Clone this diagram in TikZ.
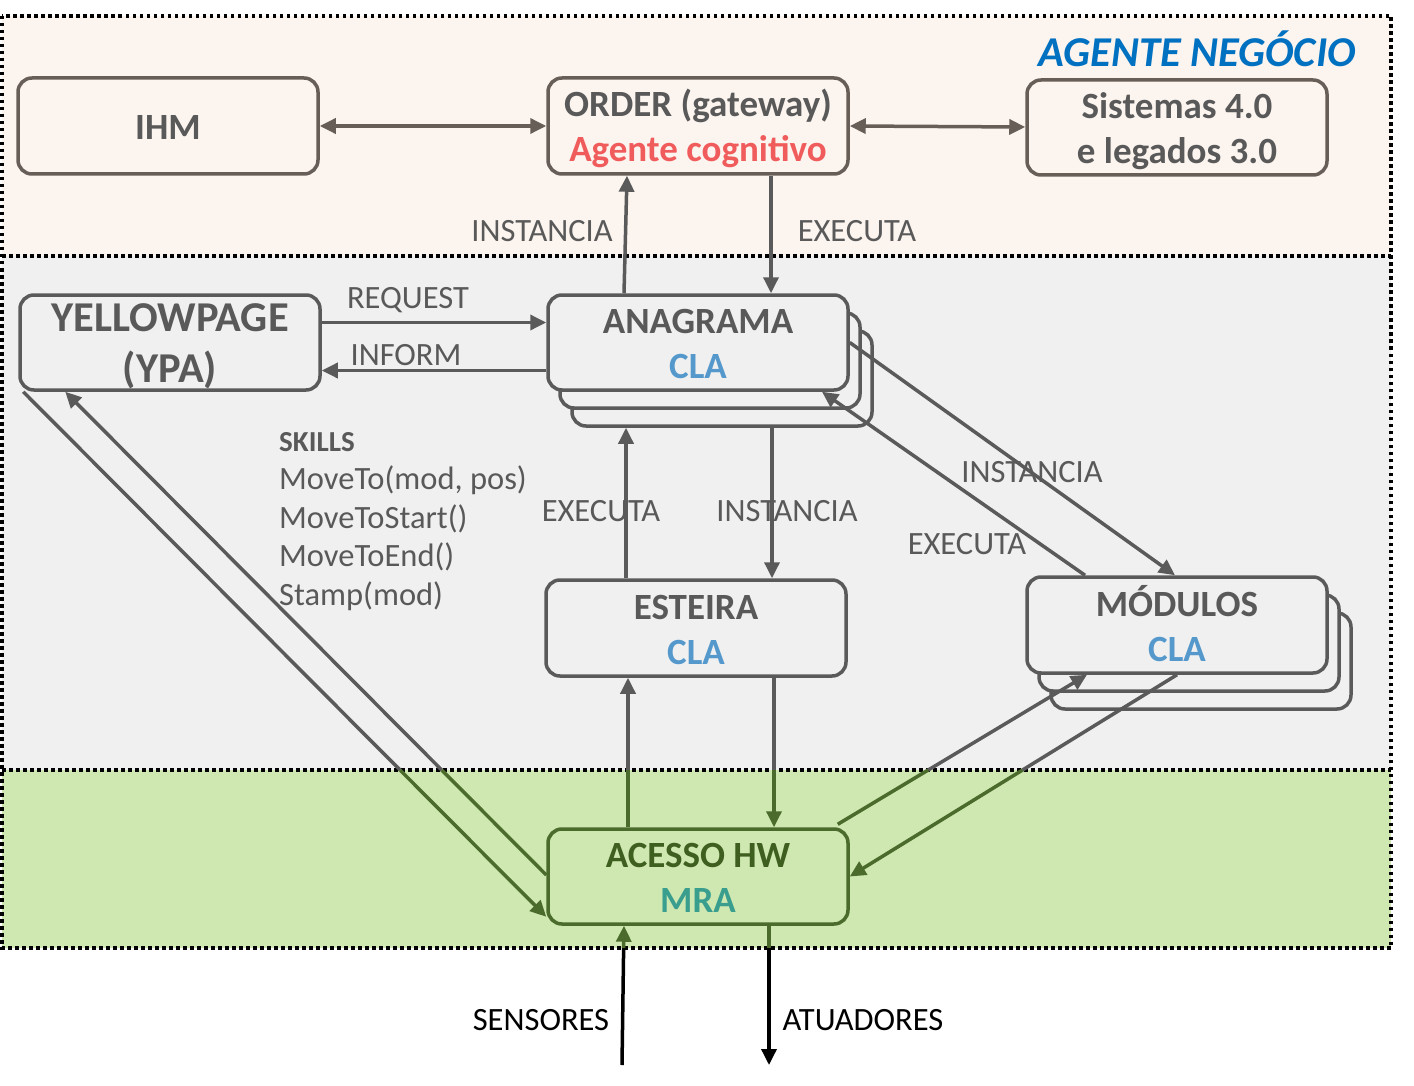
\documentclass[tikz,border=0pt]{standalone}
\usepackage{fontspec}
\setmainfont{Carlito}
\usetikzlibrary{arrows.meta,calc}
\definecolor{bandtop}{HTML}{FCF4EF}
\definecolor{bandmid}{HTML}{F0F0F0}
\definecolor{bandbot}{HTML}{CFE8B1}
\definecolor{topline}{HTML}{675E58}
\definecolor{midline}{HTML}{5A5A5A}
\definecolor{txtgray}{HTML}{595959}
\definecolor{clablue}{HTML}{5599CC}
\definecolor{agred}{HTML}{F05C5C}
\definecolor{titleblue}{HTML}{0070C0}
\definecolor{grn}{HTML}{4B6B2C}
\definecolor{grntxt}{HTML}{3F5F20}
\definecolor{mra}{HTML}{3A9E8E}
\newcommand{\mystrutA}{\rule{0pt}{37pt}}
\newcommand{\mystrutB}{\rule[-10pt]{0pt}{10pt}}
\newcommand{\mystrutC}{\rule{0pt}{36pt}}
\newcommand{\mystrutD}{\rule[-7pt]{0pt}{7pt}}
\begin{document}
\begin{tikzpicture}[x=1pt,y=-1pt,
  tip/.style={-{Triangle[length=16pt,width=15pt]}},
  dtip/.style={{Triangle[length=16pt,width=15pt]}-{Triangle[length=16pt,width=15pt]}},
  dotline/.style={draw=black,line width=3.5pt,dash pattern=on 3.5pt off 3.5pt},
  basebox/.style={draw,rounded corners=14pt,line width=3.5pt,minimum width=300pt,minimum height=96pt,align=center,inner sep=0pt,font=\fontsize{37}{45}\selectfont\bfseries},
  topbox/.style={basebox,draw=topline,fill=bandtop,text=txtgray},
  midbox/.style={basebox,draw=midline,fill=bandmid,text=txtgray},
  hwbox/.style={basebox,draw=grn,fill=bandbot,text=grntxt,minimum height=95pt},
  toparr/.style={draw=topline,line width=3.5pt},
  midarr/.style={draw=midline,line width=3.5pt},
  grnarr/.style={draw=grn,line width=3.5pt},
  blkarr/.style={draw=black,line width=3.5pt},
  lbl/.style={font=\fontsize{32.5}{35}\selectfont,text=txtgray,inner sep=0pt}]
\useasboundingbox (0,0) rectangle (1414,1086);
\fill[white] (0,0) rectangle (1414,1086);
% bands
\fill[bandtop] (2,16) rectangle (1391,256);
\fill[bandmid] (2,256) rectangle (1391,770);
\fill[bandbot] (2,770) rectangle (1391,948);
\draw[dotline] (2,16) rectangle (1391,948);
\draw[dotline] (2,256) -- (1391,256);
\draw[dotline] (2,770) -- (1391,770);
\coordinate (L1) at (0,770); \coordinate (L2) at (1414,770);
\coordinate (B1) at (0,948); \coordinate (B2) at (1414,948);
% title
\node[anchor=east,inner sep=0pt,font=\fontsize{42.5}{45}\selectfont\bfseries\itshape,text=titleblue] (title) at (1356,49) {AGENTE NEGÓCIO};
% nodes
\node[topbox] (ihm) at (168,126) {\rule{0pt}{37pt}IHM\rule[-9pt]{0pt}{9pt}};
\node[topbox] (ord) at (698,126) {\mystrutA ORDER (gateway)\\\textcolor{agred}{Agente cognitivo}\mystrutB};
\node[topbox,minimum height=95pt] (sis) at (1177,127.5) {\mystrutA Sistemas 4.0\\e legados 3.0\mystrutB};
\node[midbox,minimum height=95pt,font=\fontsize{42.5}{51}\selectfont\bfseries] (ypa) at (170,342.5) {\mystrutC\smash{YELLOWPAGE}\\\smash{(YPA)}\mystrutD};
\node[midbox,minimum height=95pt] (ana3) at (722,378.5) {};
\node[midbox,minimum height=95pt] (ana2) at (710,360.5) {};
\node[midbox,minimum height=95pt] (ana) at (698,342.5) {\mystrutA ANAGRAMA\\\textcolor{clablue}{CLA}\mystrutB};
\node[midbox] (est) at (696,628) {\mystrutA ESTEIRA\\\textcolor{clablue}{CLA}\mystrutB};
\node[midbox] (mod3) at (1201,661) {};
\node[midbox] (mod2) at (1189,643) {};
\node[midbox] (mod) at (1177,625) {\mystrutA MÓDULOS\\\textcolor{clablue}{CLA}\mystrutB};
\node[hwbox] (acc) at (698,876.5) {\mystrutA ACESSO HW\\\textcolor{mra}{MRA}\mystrutB};
% top connectors
\draw[toparr,dtip] (ihm.east) -- (ord.west);
\draw[toparr,dtip] (ord.east) -- ([yshift=-1pt]ord.east -| sis.west);
\draw[midarr,tip] ([xshift=-74pt]ana.north) -- ([xshift=-71pt]ord.south);
\draw[midarr,tip] ([xshift=73pt]ord.south) -- ([xshift=73pt]ord.south |- ana.north);
% request / inform
\draw[midarr,tip] ([yshift=20pt]ypa.east) -- ([yshift=20pt]ypa.east -| ana.west);
\draw[midarr,tip] ([yshift=-28pt]ana.west) -- ([yshift=-28pt]ana.west -| ypa.east);
% ypa <-> acc
\coordinate (a7) at ([xshift=5pt]ypa.south west);
\coordinate (b7) at ([yshift=9pt]acc.south west);
\coordinate (m7) at (intersection of a7--b7 and L1--L2);
\draw[midarr] (a7) -- (m7);
\draw[grnarr,tip] (m7) -- (b7);
\coordinate (a8) at ([yshift=1.5pt]acc.west);
\coordinate (b8) at ([xshift=47pt]ypa.south west);
\coordinate (m8) at (intersection of a8--b8 and L1--L2);
\draw[grnarr] (a8) -- (m8);
\draw[midarr,tip] (m8) -- (b8);
% ana <-> est
\draw[midarr,tip] ([xshift=-70pt]est.north) -- ([xshift=-70pt]est.north |- ana3.south);
\draw[midarr,tip] ([xshift=50pt]ana3.south) -- ([xshift=50pt]ana3.south |- est.north);
% est <-> acc
\coordinate (a11) at ([xshift=-70pt]acc.north);
\coordinate (m11) at ([xshift=-70pt]acc.north |- L1);
\coordinate (b11) at ([xshift=-70pt]acc.north |- est.south);
\draw[grnarr] (a11) -- (m11);
\draw[midarr,tip] (m11) -- (b11);
\coordinate (a12) at ([xshift=78pt]est.south);
\coordinate (m12) at ([xshift=78pt]est.south |- L1);
\coordinate (b12) at ([xshift=78pt]est.south |- acc.north);
\draw[midarr] (a12) -- (m12);
\draw[grnarr,tip] (m12) -- (b12);
% ana <-> mod
\draw[midarr,tip] (ana.east) -- ([xshift=-2pt]mod.north);
\draw[midarr,tip] ([xshift=-92pt]mod.north) -- ([xshift=124pt]ana.south);
% acc <-> mod
\coordinate (a14) at ([xshift=-12pt,yshift=3pt]acc.north east);
\coordinate (b14) at ([xshift=-90pt]mod.south);
\coordinate (m14) at (intersection of a14--b14 and L1--L2);
\draw[grnarr] (a14) -- (m14);
\draw[midarr,tip] (m14) -- (b14);
\coordinate (a15) at (mod.south);
\coordinate (b15) at (acc.east);
\coordinate (m15) at (intersection of a15--b15 and L1--L2);
\draw[midarr] (a15) -- (m15);
\draw[grnarr,tip] (m15) -- (b15);
% sensors / actuators
\coordinate (sens) at (622,1065);
\coordinate (b16) at ([xshift=-74pt]acc.south);
\coordinate (m16) at (intersection of sens--b16 and B1--B2);
\draw[blkarr] (sens) -- (m16);
\draw[grnarr,tip] (m16) -- (b16);
\coordinate (atu) at (769,1065);
\coordinate (a17) at (atu |- acc.south);
\coordinate (m17) at (atu |- B1);
\draw[grnarr] (a17) -- (m17);
\draw[blkarr,tip] (m17) -- (atu);
% labels
\node[lbl] (l1) at (542,231) {INSTANCIA};
\node[lbl] (l2) at (857,231) {EXECUTA};
\node[lbl] (l3) at (408,300) {REQUEST};
\node[lbl] (l4) at (406,355) {INFORM};
\node[lbl] (l5) at (601,511) {EXECUTA};
\node[lbl] (l6) at (787,511) {INSTANCIA};
\node[lbl] (l7) at (1032,472) {INSTANCIA};
\node[lbl] (l8) at (967,544) {EXECUTA};
\node[lbl,text=black] (l9) at (541,1020) {SENSORES};
\node[lbl,text=black] (l10) at (863,1020) {ATUADORES};
\node[lbl,anchor=west,font=\fontsize{29}{35}\selectfont\bfseries] (sk0) at (279,442) {SKILLS};
\node[lbl,anchor=west] (sk1) at (279,480) {MoveTo(mod, pos)};
\node[lbl,anchor=west] (sk2) at (279,519) {MoveToStart()};
\node[lbl,anchor=west] (sk3) at (279,557) {MoveToEnd()};
\node[lbl,anchor=west] (sk4) at (279,596) {Stamp(mod)};
\end{tikzpicture}
\end{document}
